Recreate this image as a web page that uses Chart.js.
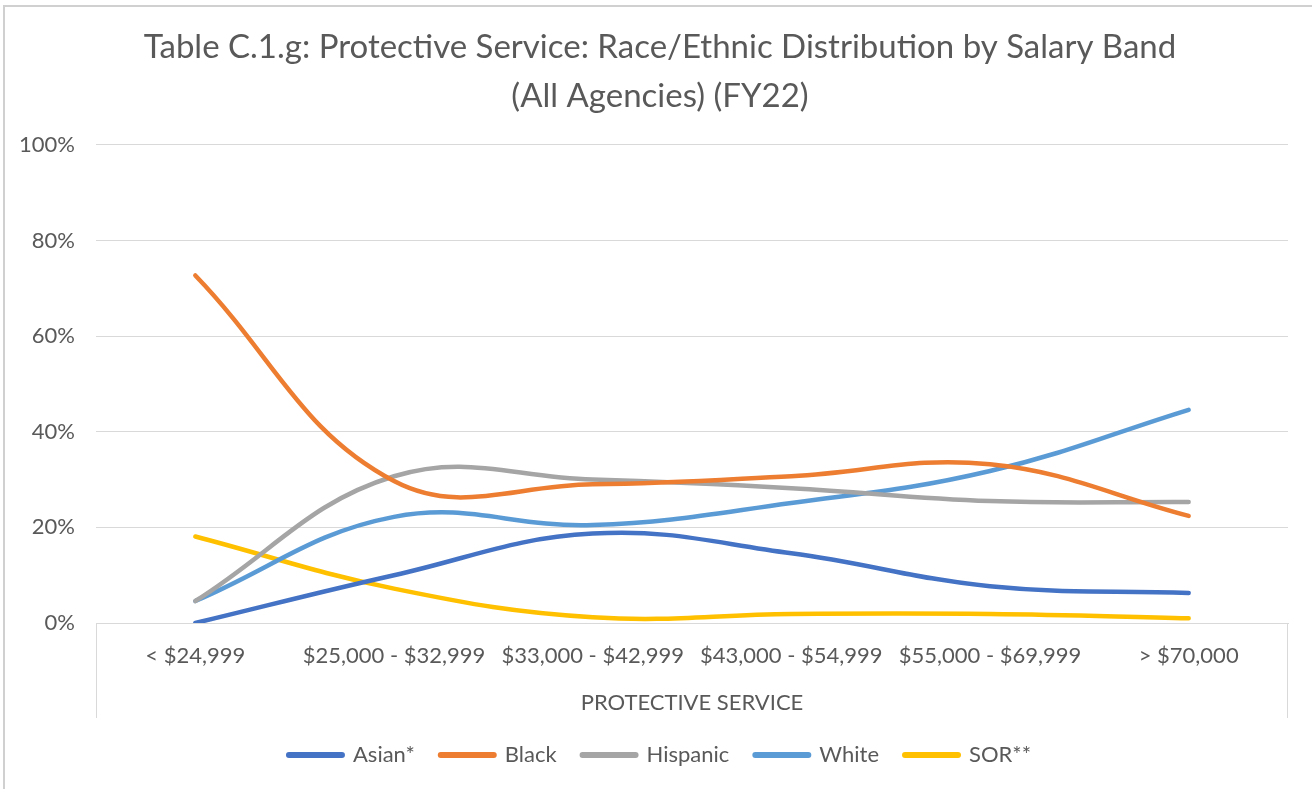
<!DOCTYPE html>
<html>
<head>
<meta charset="utf-8">
<title>Protective Service: Race/Ethnic Distribution by Salary Band</title>
<script src="https://cdn.jsdelivr.net/npm/chart.js@4/dist/chart.umd.min.js"></script>
<style>
  html, body { margin: 0; padding: 0; background: #ffffff; }
  #wrap { position: relative; width: 1312px; height: 789px; }
</style>
</head>
<body>
<div id="wrap"><canvas id="chart" width="1312" height="789"></canvas></div>
<script>
// Salary bands (x categories)
const salaryBands = ['< $24,999', '$25,000 - $32,999', '$33,000 - $42,999', '$43,000 - $54,999', '$55,000 - $69,999', '> $70,000'];

// Share of employees in each band, percent
const asian    = [0.0, 10.0, 18.7, 14.6, 7.7, 6.3];
const black    = [72.7, 29.7, 29.0, 30.7, 33.2, 22.4];
const hispanic = [4.6, 30.7, 30.0, 28.2, 25.5, 25.3];
const white    = [4.6, 22.2, 20.5, 25.1, 31.8, 44.6];
const sor      = [18.1, 7.2, 1.2, 1.9, 1.9, 1.0];

const seriesNames = ['Asian*', 'Black', 'Hispanic', 'White', 'SOR**'];
const yTicks = [0, 20, 40, 60, 80, 100];

const titleLines = ['Table C.1.g: Protective Service: Race/Ethnic Distribution by Salary Band', '(All Agencies) (FY22)'];
const axisTitle = 'PROTECTIVE SERVICE';

const colors = ['#4472C4', '#ED7D31', '#A5A5A5', '#5B9BD5', '#FFC000'];
const textColor = '#595959';
const gridColor = '#D9D9D9';
const FONT = 'Lato, "Open Sans", "DejaVu Sans", sans-serif';

function lineSet(label, data, color) {
  return {
    label, data,
    borderColor: color,
    backgroundColor: color,
    borderWidth: 4.5,
    borderCapStyle: 'round',
    borderJoinStyle: 'round',
    pointRadius: 0,
    pointHoverRadius: 0,
    tension: 0.4,
    fill: false
  };
}

// Outer frame and the bracket lines under the category axis
const frame = {
  id: 'frame',
  afterDraw(chart) {
    const ctx = chart.ctx;
    const a = chart.chartArea;
    ctx.save();
    ctx.strokeStyle = '#D0D0D0';
    ctx.lineWidth = 2;
    ctx.beginPath();
    ctx.moveTo(4, chart.height + 2);
    ctx.lineTo(4, 6);
    ctx.lineTo(chart.width + 2, 6);
    ctx.stroke();
    ctx.strokeStyle = gridColor;
    ctx.lineWidth = 1;
    ctx.beginPath();
    const l = Math.round(a.left) + 0.5, r = Math.round(a.right) - 0.5;
    ctx.moveTo(l, a.bottom);
    ctx.lineTo(l, a.bottom + 95);
    ctx.moveTo(r, a.bottom);
    ctx.lineTo(r, a.bottom + 95);
    ctx.stroke();
    ctx.restore();
  }
};

new Chart(document.getElementById('chart'), {
  type: 'line',
  data: {
    labels: salaryBands,
    datasets: [
      lineSet(seriesNames[0], asian, colors[0]),
      lineSet(seriesNames[1], black, colors[1]),
      lineSet(seriesNames[2], hispanic, colors[2]),
      lineSet(seriesNames[3], white, colors[3]),
      lineSet(seriesNames[4], sor, colors[4])
    ]
  },
  options: {
    responsive: false,
    animation: false,
    layout: { padding: { left: 8, right: 0, top: 0, bottom: 13 } },
    plugins: {
      title: {
        display: true,
        text: titleLines,
        color: textColor,
        font: { family: FONT, size: 33, weight: 'normal', lineHeight: 1.48 },
        padding: { top: 22.6, bottom: 24.7 }
      },
      legend: {
        position: 'bottom',
        labels: {
          color: textColor,
          font: { family: FONT, size: 22 },
          usePointStyle: true,
          pointStyle: 'line',
          pointStyleWidth: 53,
          padding: 26,
          generateLabels(chart) {
            return chart.data.datasets.map((ds, i) => ({
              text: ds.label,
              fillStyle: ds.borderColor,
              strokeStyle: ds.borderColor,
              lineWidth: 6,
              lineCap: 'round',
              pointStyle: 'line',
              fontColor: textColor,
              hidden: false,
              datasetIndex: i
            }));
          }
        }
      },
      tooltip: { enabled: false }
    },
    scales: {
      x: {
        offset: true,
        grid: { display: false, drawTicks: false },
        border: { display: true, color: gridColor, width: 1 },
        ticks: {
          color: textColor,
          font: { family: FONT, size: 22 },
          padding: 20,
          maxRotation: 0,
          autoSkip: false
        },
        title: {
          display: true,
          text: axisTitle,
          color: textColor,
          font: { family: FONT, size: 22 },
          padding: { top: 0, bottom: 2 }
        },
        afterFit(scale) { scale.height = 95; }
      },
      y: {
        min: 0,
        max: 100,
        afterBuildTicks(scale) { scale.ticks = yTicks.map(v => ({ value: v })); },
        grid: { color: gridColor, lineWidth: 1, drawTicks: false },
        border: { display: false },
        ticks: {
          color: textColor,
          font: { family: FONT, size: 22 },
          padding: 21,
          callback: v => v + '%'
        },
        afterFit(scale) { scale.width = 88; }
      },
      yRight: {
        position: 'right',
        display: true,
        grid: { display: false, drawTicks: false },
        border: { display: false },
        ticks: { display: false },
        afterFit(scale) { scale.width = 24; }
      }
    }
  },
  plugins: [frame]
});
</script>
</body>
</html>
